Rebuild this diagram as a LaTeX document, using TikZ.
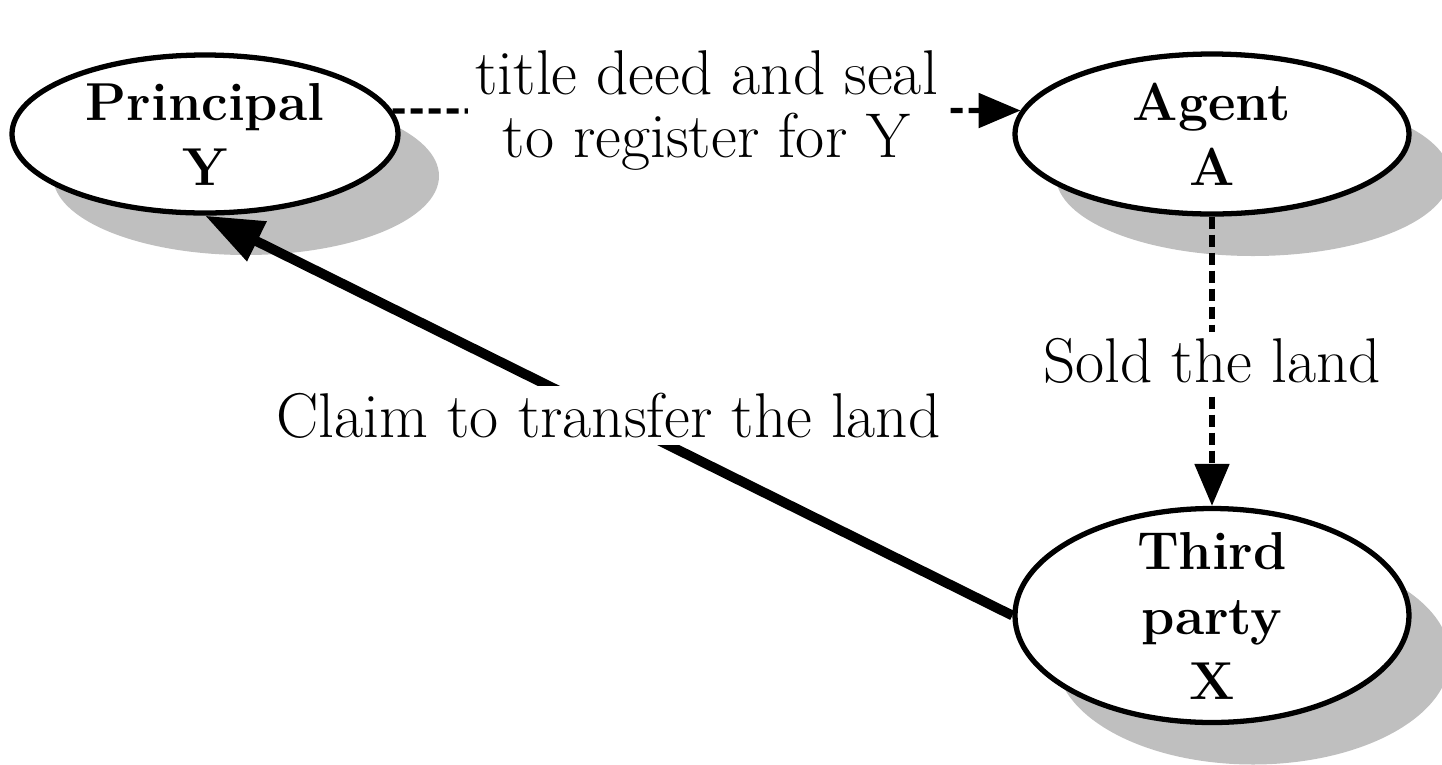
\documentclass[tikz,border=0pt]{standalone}
\usepackage{tikz}
\usepackage{amsmath}
\usetikzlibrary{shapes.geometric,shadows,arrows.meta}

\tikzset{
    party/.style={ellipse, draw=black, line width=1.5pt, fill=white, align=center, inner sep=0pt,
        font=\bfseries\fontsize{15.2}{18.5}\selectfont,
        drop shadow={shadow xshift=0.41cm, shadow yshift=-0.42cm, fill=gray!50, opacity=1}},
    note/.style={fill=white, align=center, inner sep=2pt, font=\fontsize{18}{18}\selectfont},
    handover/.style={black, line width=1.5pt, dash pattern=on 0.12cm off 0.06cm,
        -{Triangle[length=0.42cm,width=0.34cm]}},
    claim/.style={black, line width=2.8pt, -{Triangle[length=0.58cm,width=0.42cm]}}
}

\begin{document}
\begin{tikzpicture}
    \useasboundingbox (0,0) rectangle (14.42,-7.64);
    \node[party, minimum width=3.86cm, minimum height=1.58cm] (principal) at (2.05,-1.34) {Principal\\Y};
    \node[party, minimum width=3.94cm, minimum height=1.60cm] (agent) at (12.12,-1.34) {Agent\\A};
    \node[party, minimum width=3.94cm, minimum height=2.14cm, inner ysep=-4mm] (third) at (12.12,-6.155) {Third\\party\\X};
    \draw[handover](principal.7)--(agent.173) node[note, midway]{title deed and seal\\to register for Y};
    \draw[handover](agent.south)--(third.north) node[note, midway]{Sold the land};
    \draw[claim](third.west)--(principal.south) node[note, midway]{Claim to transfer the land};
\end{tikzpicture}
\end{document}
